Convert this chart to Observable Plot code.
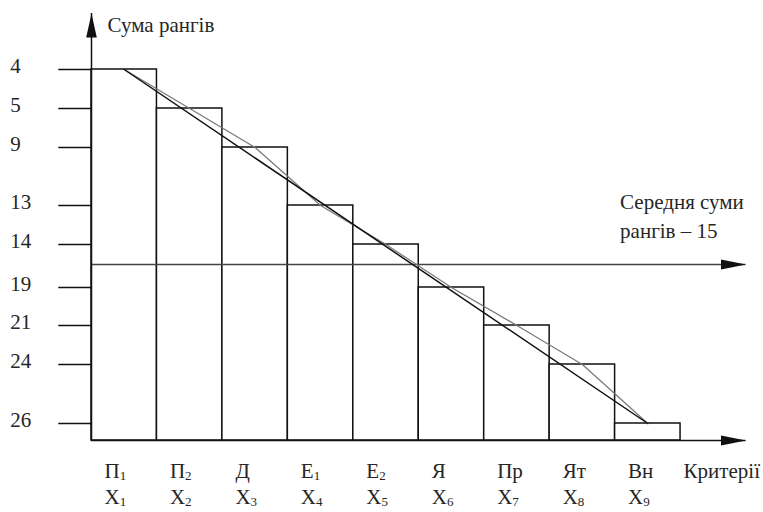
<!DOCTYPE html>
<html><head><meta charset="utf-8">
<script src="https://cdn.jsdelivr.net/npm/d3@7"></script>
<script src="https://cdn.jsdelivr.net/npm/@observablehq/plot@0.6"></script>
<style>body{margin:0;background:#fff} svg{display:block}</style>
</head><body><div id="chart"></div>
<script>
// ---- data ----
const criteria = ["П_1", "П_2", "Д", "Е_1", "Е_2", "Я", "Пр", "Ят", "Вн"];
const variables = ["X_1", "X_2", "X_3", "X_4", "X_5", "X_6", "X_7", "X_8", "X_9"];
const rankSums = [4, 5, 9, 13, 14, 19, 21, 24, 26];
const yTickLabels = ["4", "5", "9", "13", "14", "19", "21", "24", "26"];
const meanRankSum = 15;
const yTitle = "Сума рангів";
const xTitle = "Критерії";
const meanLabel = "Середня суми\nрангів – 15";

// ---- schematic (hand-drawn) vertical scale of the original figure ----
const AXIS_TOP = 2.5, BASE = 27;
const yLevels = [AXIS_TOP, 4, 5, 9, 13, 14, 15, 19, 21, 24, 26, BASE];
const yPixels = [13, 69, 108, 147, 205, 244, 264, 287, 325, 364, 423, 440];

const rows = criteria.map((c, i) => ({i, c, v: variables[i], sum: rankSums[i], label: yTickLabels[i]}));

const arrowUp = {draw(ctx) { ctx.moveTo(0, 0); ctx.lineTo(5.3, 24); ctx.lineTo(-5.3, 24); ctx.closePath(); }};
const arrowRight = {draw(ctx) { ctx.moveTo(0, 0); ctx.lineTo(-25, -5); ctx.lineTo(-25, 5); ctx.closePath(); }};

const ink = "#111";
const txt = "#262626";
const fs = 21;
const serif = "Liberation Serif";

const chart = Plot.plot({
  width: 763,
  height: 512,
  marginTop: 0, marginRight: 0, marginBottom: 0, marginLeft: 0,
  x: {type: "linear", domain: [0, 10], range: [91, 745.5], axis: null},
  y: {type: "linear", domain: yLevels, range: yPixels, axis: null},
  style: {background: "white", overflow: "visible"},
  marks: [
    // bars
    Plot.rect(rows, {x1: "i", x2: d => d.i + 1, y1: BASE, y2: "sum", fill: "white", stroke: ink, strokeWidth: 1.5}),
    // mean line
    Plot.ruleY([meanRankSum], {x1: 0, x2: 10, stroke: "#444", strokeWidth: 1.6}),
    Plot.dot([meanRankSum], {x: 10, y: d => d, symbol: arrowRight, fill: ink, stroke: null}),
    // polyline through bar tops
    Plot.line(rows, {x: d => d.i + 0.5, y: "sum", stroke: "#777", strokeWidth: 1.2}),
    // straight trend
    Plot.line([rows[0], rows[rows.length - 1]], {x: d => d.i + 0.5, y: "sum", stroke: ink, strokeWidth: 1.5}),
    // axes
    Plot.ruleX([0], {y1: BASE, y2: AXIS_TOP, stroke: ink, strokeWidth: 1.5}),
    Plot.dot([0], {x: 0, y: AXIS_TOP, symbol: arrowUp, fill: ink, stroke: null}),
    Plot.ruleY([BASE], {x1: 0, x2: 10, stroke: ink, strokeWidth: 1.5}),
    Plot.dot([BASE], {x: 10, y: BASE, symbol: arrowRight, fill: ink, stroke: null}),
    // tick lines and labels
    Plot.ruleY(rows, {y: "sum", x1: -0.5, x2: 0, stroke: ink, strokeWidth: 1.5}),
    Plot.text(rows, {x: -1.24, y: "sum", text: "label", textAnchor: "start", dy: -3, fill: txt, fontSize: fs, fontFamily: serif}),
    // category labels
    Plot.text(rows, {x: "i", y: BASE, text: "c", textAnchor: "start", dx: 13, dy: 31, fill: txt, fontSize: fs, fontFamily: serif}),
    Plot.text(rows, {x: "i", y: BASE, text: "v", textAnchor: "start", dx: 13, dy: 57, fill: txt, fontSize: fs, fontFamily: serif}),
    Plot.text([xTitle], {x: 9, y: BASE, text: d => d, textAnchor: "start", dx: 3, dy: 31, fill: txt, fontSize: fs, fontFamily: serif}),
    // titles
    Plot.text([yTitle], {x: 0, y: AXIS_TOP, text: d => d, textAnchor: "start", dx: 16, dy: 12, fill: txt, fontSize: fs, fontFamily: serif}),
    Plot.text([meanLabel], {x: 8, y: meanRankSum, text: d => d, textAnchor: "start", dx: 5, dy: -50, lineHeight: 1.35, fill: txt, fontSize: fs, fontFamily: serif})
  ]
});

// subscripts: "П_1" -> П with subscript 1
d3.select(chart).selectAll("text").each(function() {
  const t = this.textContent;
  if (this.childElementCount === 0 && t.includes("_")) {
    const [base, sub] = t.split("_");
    this.textContent = base;
    d3.select(this).append("tspan").attr("dy", "0.15em").style("font-size", "62%").text(sub);
  }
});

document.getElementById("chart").appendChild(chart);
</script>
</body></html>
